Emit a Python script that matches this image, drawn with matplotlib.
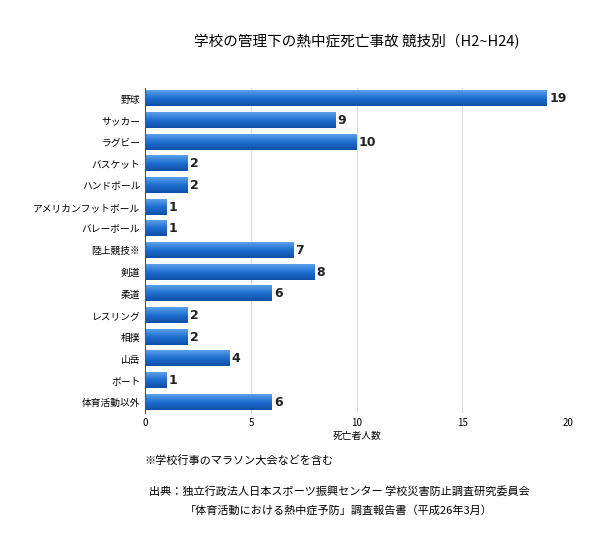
import numpy as np
import matplotlib
matplotlib.use("Agg")
import matplotlib.pyplot as plt
from matplotlib.colors import LinearSegmentedColormap

plt.rcParams["font.family"] = "Noto Sans CJK JP"

sports = ["野球", "サッカー", "ラグビー", "バスケット", "ハンドボール",
          "アメリカンフットボール", "バレーボール", "陸上競技※", "剣道", "柔道",
          "レスリング", "相撲", "山岳", "ボート", "体育活動以外"]
deaths = [19, 9, 10, 2, 2, 1, 1, 7, 8, 6, 2, 2, 4, 1, 6]
xticks = [0, 5, 10, 15, 20]

fig = plt.figure(figsize=(6, 5.49), dpi=100)
ax = fig.add_axes([0.242, 0.248, 0.705, 0.592])

grad = np.linspace(0, 1, 50).reshape(-1, 1)
cmap = LinearSegmentedColormap.from_list("b", ["#5aa0ea", "#1f6fd0", "#0d4fa8"])
h = 0.72
for i, v in enumerate(deaths):
    ax.imshow(grad, cmap=cmap, aspect="auto", extent=[0, v, i + h / 2, i - h / 2],
              zorder=2)
    ax.text(v + 0.1, i, str(v), va="center", ha="left", fontsize=9,
            fontweight="bold", color="#222", fontfamily="DejaVu Sans")

ax.set_xlim(0, 20)
ax.set_ylim(len(sports) - 0.5, -0.5)
ax.set_yticks(range(len(sports)))
ax.set_yticklabels(sports, fontsize=7)
ax.set_xticks(xticks)
ax.tick_params(axis="x", labelsize=7, length=0)
ax.tick_params(axis="y", length=0)
ax.grid(axis="x", color="#dddddd", lw=0.8, zorder=0)
for s in ["top", "right", "bottom"]:
    ax.spines[s].set_visible(False)
ax.spines["left"].set_color("#555")
ax.set_xlabel("死亡者人数", fontsize=7, labelpad=2)

fig.text(0.595, 0.915, "学校の管理下の熱中症死亡事故 競技別（H2~H24)", ha="center",
         fontsize=10.5)
fig.text(0.24, 0.155, "※学校行事のマラソン大会などを含む", fontsize=8)
fig.text(0.565, 0.098, "出典：独立行政法人日本スポーツ振興センター 学校災害防止調査研究委員会",
         ha="center", fontsize=8)
fig.text(0.565, 0.065, "「体育活動における熱中症予防」調査報告書（平成26年3月）",
         ha="center", fontsize=8)

fig.savefig("out.png", dpi=100)
